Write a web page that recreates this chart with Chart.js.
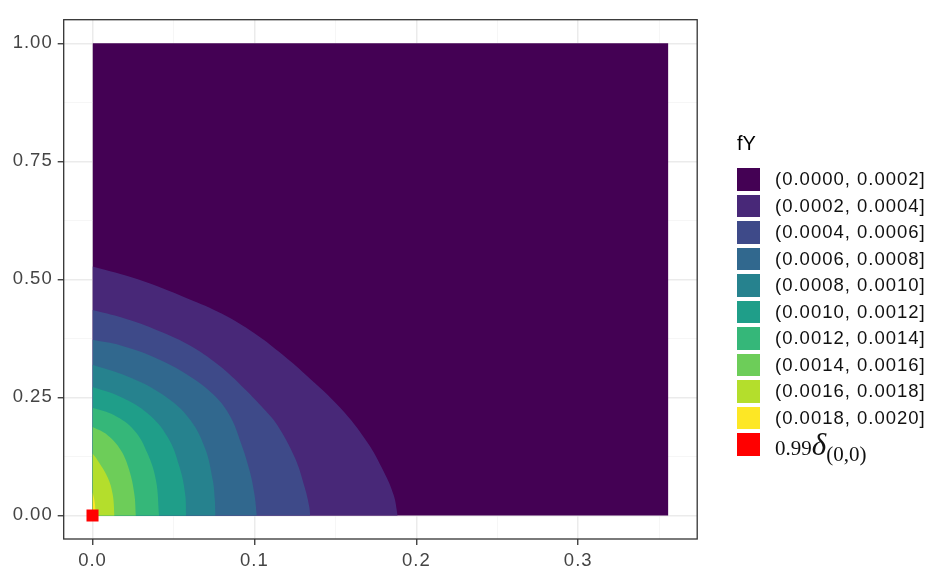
<!DOCTYPE html>
<html><head><meta charset="utf-8">
<script src="https://cdn.jsdelivr.net/npm/chart.js@4.4.1/dist/chart.umd.min.js"></script>
<style>
html,body{margin:0;padding:0;background:#fff;}
#wrap{position:relative;width:937px;height:576px;overflow:hidden;background:#fff;}
#c{position:absolute;left:0;top:0;}
.lgt{position:absolute;left:737px;top:133px;font-family:'Liberation Sans',Arial,sans-serif;font-size:20px;line-height:20px;color:#000;}
.row{position:absolute;left:737px;height:22.5px;display:flex;align-items:center;}
.key{display:inline-block;width:23px;height:22.5px;}
.lab{margin-left:15px;font-family:'Liberation Sans',Arial,sans-serif;font-size:18.5px;letter-spacing:1px;line-height:1;color:#111;white-space:nowrap;}
.ser{font-family:'Liberation Serif','Times New Roman',serif;font-size:21px;letter-spacing:0;}
.dl{font-style:italic;font-size:31px;}
.sb{position:relative;top:6px;}
</style></head><body>
<div id="wrap"><canvas id="c" width="937" height="576"></canvas><div id="legend"></div></div>
<script>
// ---- axis ticks ----
const xMajor = [0, 0.1, 0.2, 0.3];
const xMajorLabels = ['0.0', '0.1', '0.2', '0.3'];
const xMinor = [0.05, 0.15, 0.25, 0.35];
const yMajor = [0, 0.25, 0.5, 0.75, 1];
const yMajorLabels = ['0.00', '0.25', '0.50', '0.75', '1.00'];
const yMinor = [0.125, 0.375, 0.625, 0.875];
const xLimits = [-0.0178, 0.3735];
const yLimits = [-0.05, 1.05];

// ---- legend ----
const legendTitle = 'fY';
const levelLabels = ['(0.0000, 0.0002]', '(0.0002, 0.0004]', '(0.0004, 0.0006]', '(0.0006, 0.0008]', '(0.0008, 0.0010]',
  '(0.0010, 0.0012]', '(0.0012, 0.0014]', '(0.0014, 0.0016]', '(0.0016, 0.0018]', '(0.0018, 0.0020]'];
const levelColors = ['#440154', '#482878', '#3E4A89', '#31688E', '#26828E', '#1F9E89', '#35B779', '#6DCD59', '#B4DE2C', '#FDE725'];
const deltaWeight = '0.99';
const deltaColor = '#FF0000';

// ---- data: region and contour boundaries (x, y) ----
const regionX = [0, 0.3557];
const regionTopY = 1;
const b0002 = [[0,0.527],[0.028,0.500],[0.059,0.459],[0.080,0.427],[0.100,0.386],[0.115,0.347],[0.132,0.297],[0.153,0.228],[0.1695,0.156],[0.180,0.092],[0.186,0.043],[0.1885,0]];
const b0004 = [[0,0.435],[0.018,0.419],[0.038,0.395],[0.059,0.362],[0.078,0.318],[0.094,0.268],[0.106,0.225],[0.114,0.192],[0.125,0.122],[0.131,0.060],[0.1338,0.020],[0.1345,0]];
const b0006 = [[0,0.372],[0.0175,0.360],[0.038,0.335],[0.059,0.297],[0.075,0.255],[0.085,0.210],[0.0915,0.155],[0.097,0.095],[0.100,0.045],[0.1015,0]];
const b0008 = [[0,0.319],[0.0217,0.294],[0.0423,0.258],[0.0588,0.209],[0.0692,0.145],[0.0743,0.074],[0.0755,0.035],[0.076,0]];
const b0010 = [[0,0.272],[0.0175,0.251],[0.0341,0.216],[0.0464,0.166],[0.0537,0.103],[0.0572,0.046],[0.0578,0]];
const b0012 = [[0,0.228],[0.0134,0.212],[0.0258,0.180],[0.034,0.131],[0.0392,0.074],[0.0411,0]];
const b0014 = [[0,0.187],[0.0093,0.170],[0.0175,0.138],[0.0227,0.0955],[0.0258,0.046],[0.0268,0]];
const b0016 = [[0,0.131],[0.0031,0.117],[0.0093,0.081],[0.0124,0.046],[0.0136,0]];
const b0018 = [[0,0.049],[0.001,0.035],[0.0017,0.017],[0.002,0]];
const boundaries = [b0002, b0004, b0006, b0008, b0010, b0012, b0014, b0016, b0018];
const deltaPoint = [[0, 0]];

// ---- build legend ----
(function(){
  const lg = document.getElementById('legend');
  const t = document.createElement('div'); t.className = 'lgt'; t.textContent = legendTitle; lg.appendChild(t);
  const top0 = 168, pitch = 26.5;
  levelLabels.forEach((lab, i) => {
    const r = document.createElement('div'); r.className = 'row'; r.style.top = (top0 + pitch * i) + 'px';
    r.innerHTML = '<span class="key" style="background:' + levelColors[i] + '"></span><span class="lab">' + lab + '</span>';
    lg.appendChild(r);
  });
  const r = document.createElement('div'); r.className = 'row'; r.style.top = (top0 + pitch * levelLabels.length) + 'px';
  r.innerHTML = '<span class="key" style="background:' + deltaColor + '"></span><span class="lab ser">' + deltaWeight +
    '<span class="dl">\u03B4</span><span class="sb">(0,0)</span></span>';
  lg.appendChild(r);
})();

// ---- chart ----
const isIn = (arr, v) => arr.some(a => Math.abs(a - v) < 1e-9);
const labelOf = (arr, labels, v) => { const i = arr.findIndex(a => Math.abs(a - v) < 1e-9); return i >= 0 ? labels[i] : ''; };

const datasets = [];
datasets.push({
  data: regionX.map(x => ({x: x, y: regionTopY})),
  backgroundColor: levelColors[0], borderColor: 'rgba(0,0,0,0)', borderWidth: 0,
  fill: 'origin', pointRadius: 0, pointHoverRadius: 0, order: 100
});
boundaries.forEach((b, k) => {
  datasets.push({
    data: b.map(p => ({x: p[0], y: p[1]})),
    backgroundColor: levelColors[k + 1], borderColor: 'rgba(0,0,0,0)', borderWidth: 0,
    fill: 'origin', pointRadius: 0, pointHoverRadius: 0,
    tension: 0.4, order: 90 - k
  });
});
datasets.push({
  data: deltaPoint.map(p => ({x: p[0], y: p[1]})),
  showLine: false, pointStyle: 'rect', pointRadius: 8.5, pointHoverRadius: 8.5,
  backgroundColor: deltaColor, borderColor: deltaColor, borderWidth: 0, order: 0
});

const tickFont = {family: "'Liberation Sans', Arial, sans-serif", size: 18.5};
const frame = {
  id: 'frame',
  beforeLayout(c){ c.ctx.letterSpacing = '1px'; },
  beforeDraw(c){ c.ctx.letterSpacing = '1px'; },
  afterDatasetsDraw(c){
    const ctx = c.ctx, a = c.chartArea;
    ctx.save(); ctx.strokeStyle = '#333333'; ctx.lineWidth = 1.3;
    ctx.strokeRect(a.left, a.top, a.right - a.left, a.bottom - a.top);
    ctx.restore();
  }
};

function axisOpts(major, minor, labels, lim, fitFn){
  return {
    type: 'linear', min: lim[0], max: lim[1],
    afterBuildTicks: s => { s.ticks = major.concat(minor).sort((a,b)=>a-b).map(v => ({value: v})); },
    afterFit: fitFn,
    ticks: {
      callback: v => labelOf(major, labels, v),
      color: '#444444', font: tickFont, padding: 5, autoSkip: false, maxRotation: 0, minRotation: 0
    },
    grid: {
      color: c => isIn(major, c.tick.value) ? '#EBEBEB' : '#F4F4F4',
      lineWidth: c => isIn(major, c.tick.value) ? 1.5 : 0.8,
      tickColor: c => isIn(major, c.tick.value) ? '#333333' : 'rgba(0,0,0,0)',
      tickWidth: 1.3, tickLength: 6, drawTicks: true
    },
    border: {display: false}
  };
}

new Chart(document.getElementById('c'), {
  type: 'line',
  data: {datasets: datasets},
  options: {
    responsive: false, animation: false, devicePixelRatio: 1, events: [],
    layout: {padding: {left: 0, top: 19.7, right: 937 - 697.2, bottom: 0}},
    plugins: {legend: {display: false}, tooltip: {enabled: false}},
    scales: {
      x: axisOpts(xMajor, xMinor, xMajorLabels, xLimits, s => { s.height = 37; }),
      y: axisOpts(yMajor, yMinor, yMajorLabels, yLimits, s => { s.width = 63.7; })
    }
  },
  plugins: [frame]
});
</script>
</body></html>
